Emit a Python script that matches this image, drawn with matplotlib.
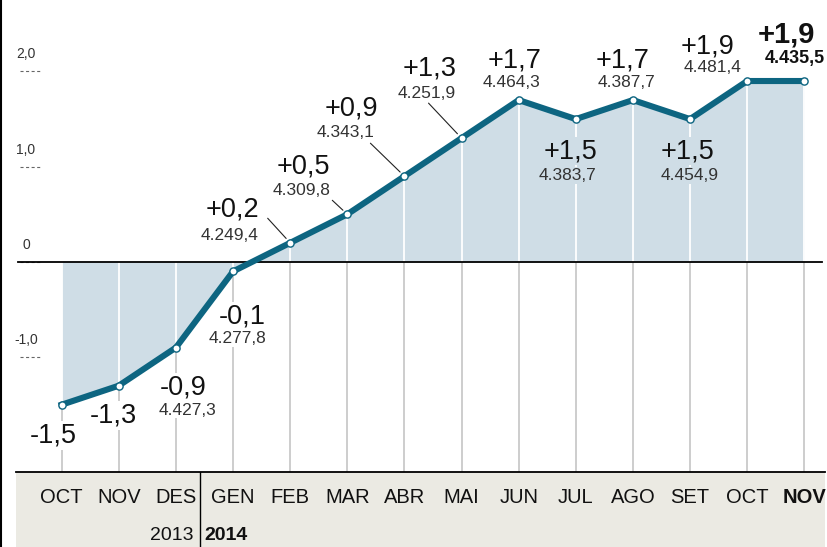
"""
Variacio interanual (Oct 2013 - Nov 2014) amb imports, grafic de linia
amb area ombrejada i etiquetes per mes.
"""

import matplotlib
matplotlib.use("Agg")
import matplotlib.pyplot as plt
from matplotlib.lines import Line2D
from matplotlib.patches import Rectangle

plt.rcParams["font.family"] = ["Liberation Sans", "DejaVu Sans"]
plt.rcParams["lines.scale_dashes"] = False

months = ["OCT", "NOV", "DES", "GEN", "FEB", "MAR", "ABR", "MAI",
          "JUN", "JUL", "AGO", "SET", "OCT", "NOV"]
change = [-1.5, -1.3, -0.9, -0.1, 0.2, 0.5, 0.9, 1.3,
          1.7, 1.5, 1.7, 1.5, 1.9, 1.9]
amounts = ["", "", "4.427,3", "4.277,8", "4.249,4", "4.309,8", "4.343,1",
           "4.251,9", "4.464,3", "4.383,7", "4.387,7", "4.454,9",
           "4.481,4", "4.435,5"]
years = ["2013", "2014"]
y_ticks = [2.0, 1.0, 0.0, -1.0]
y_tick_labels = ["2,0", "1,0", "0", "-1,0"]

# label placement, in pixels relative to each point (x, baseline)
big_offsets = [(-8, -38), (-5, -37), (7, -47), (9, -52), (-58, 26), (-44, 41),
               (-53, 61), (-32, 63), (-4, 33), (-5, -39), (-10, 33),
               (-3, -39), (-40, 28), (-18, 39)]
small_offsets = [None, None, (12, -67), (4, -72), (-61, 3), (-46, 19),
                 (-59, 39), (-35, 40), (-7, 13), (-8, -61), (-6, 13),
                 (0, -61), (-35, 9), (-9, 18)]
leaders = {4: (-22.5, 24.6), 5: (-15, 14), 6: (-34, 33), 7: (-33, 35)}

line_color = "#0d6581"
fill_color = "#cfdde6"
band_color = "#ebeae3"

fig = plt.figure(figsize=(8.27, 5.47), dpi=100)
ax = fig.add_axes([0, 75 / 547, 1, 472 / 547])
bx = fig.add_axes([0, 0, 1, 75 / 547])

x = list(range(len(months)))
ax.set_xlim(-1.08, 13.398)
ax.set_ylim(-2.207, 2.751)
ax.axis("off")
bx.set_xlim(-1.08, 13.398)
bx.set_ylim(0, 1)
bx.axis("off")

ybot = ax.get_ylim()[0]

# shaded area and month guide lines
ax.fill_between(x, change, 0, color=fill_color, lw=0, zorder=1)
for i, v in zip(x, change):
    ax.vlines(i, ybot, min(v, 0), color="#c9c9c9", lw=1.3, zorder=1.5)
    ax.vlines(i, min(v, 0), max(v, 0), color="white", lw=1.3, zorder=1.5)

# zero line
ax.plot([0.022, 0.994], [0, 0], transform=ax.get_yaxis_transform(),
        color="black", lw=1.3, zorder=2.5)

# y ticks drawn as little dashes with the label above
for t, lab in zip(y_ticks, y_tick_labels):
    ax.plot([0.0242, 0.0496], [t, t], transform=ax.get_yaxis_transform(),
            color="#666666", lw=0.8, dashes=(2.2, 1.8), zorder=2)
    ax.annotate(lab, xy=(0.0315, t), xycoords=ax.get_yaxis_transform(),
                xytext=(0, 13), textcoords="offset pixels", ha="center",
                va="baseline", fontsize=10, color="#333333")

# main line
ax.plot(x, change, color=line_color, lw=4.4, solid_joinstyle="miter",
        zorder=3)
ax.plot(x, change, ls="none", marker="o", ms=5.2, mfc="white",
        mec=line_color, mew=1.0, zorder=4)

last = len(months) - 1
for i, v in zip(x, change):
    txt = f"{v:+.1f}".replace(".", ",")
    bold = i == last
    if v < 0:
        bg = "white"
    elif i in (9, 11):
        bg = fill_color
    else:
        bg = "none"
    box = dict(boxstyle="square,pad=0.05", fc=bg, ec="none")
    dx, dy = big_offsets[i]
    ax.annotate(txt, xy=(i, v), xytext=(dx, dy), textcoords="offset pixels",
                ha="center", va="baseline", fontsize=21 if bold else 19.5,
                fontweight="bold" if bold else "normal", color="#111111",
                bbox=box, zorder=2.8)
    if small_offsets[i] is not None:
        dx, dy = small_offsets[i]
        ax.annotate(amounts[i], xy=(i, v), xytext=(dx, dy),
                    textcoords="offset pixels", ha="center", va="baseline",
                    fontsize=13 if bold else 12.5,
                    fontweight="bold" if bold else "normal",
                    color="#111111" if bold else "#333333",
                    bbox=box, zorder=2.8)

for i, (sx, sy) in leaders.items():
    ax.annotate("", xy=(x[i], change[i]), xytext=(sx, sy),
                textcoords="offset pixels",
                arrowprops=dict(arrowstyle="-", shrinkA=0, shrinkB=4.3,
                                lw=0.8, color="#222222"))

# bottom band with months and years
bx.add_patch(Rectangle((0.0193, 0), 0.9783, 1, transform=bx.transAxes,
                       color=band_color, lw=0, zorder=0))
bx.plot([0.0193, 0.9976], [1, 1], transform=bx.transAxes, color="black",
        lw=1.3, clip_on=False)
bx.plot([0.2418, 0.2418], [0, 1], transform=bx.transAxes, color="black",
        lw=1.0)
for i, m in zip(x, months):
    bx.text(i, 0.587, m, ha="center", va="baseline", fontsize=14.5,
            fontweight="bold" if i == last else "normal", color="#111111")
bx.text(0.2334, 0.093, years[0], transform=bx.transAxes, ha="right",
        va="baseline", fontsize=14, color="#111111")
bx.text(0.2467, 0.093, years[1], transform=bx.transAxes, ha="left",
        va="baseline", fontsize=14, fontweight="bold", color="#111111")

# left border
fig.add_artist(Line2D([0.0018, 0.0018], [0, 1], transform=fig.transFigure,
                      color="black", lw=1.5))

fig.savefig("out.png", dpi=100)
